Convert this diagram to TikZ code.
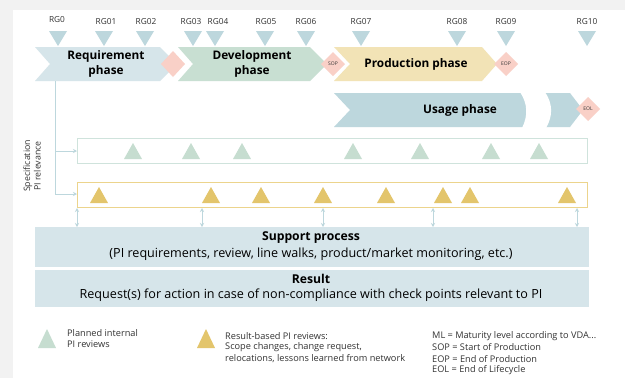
\documentclass[tikz,border=0pt]{standalone}
\usepackage{fontspec}
\setmainfont{Open Sans}
\usetikzlibrary{arrows.meta}
\definecolor{bgray}{HTML}{F2F2F2}
\definecolor{lblue}{HTML}{D6E5EA}
\definecolor{mblue}{HTML}{BDD7DD}
\definecolor{lgreen}{HTML}{C8DFD2}
\definecolor{lyellow}{HTML}{F2E3B6}
\definecolor{gold}{HTML}{E3C56C}
\definecolor{tgreen}{HTML}{C6DDD0}
\definecolor{pink}{HTML}{F9D0C7}
\definecolor{txt}{HTML}{333333}
\definecolor{box1c}{HTML}{CFE3DC}
\definecolor{box2c}{HTML}{ECD48C}
\tikzset{
  rglabel/.style={font=\fontsize{8.3}{10}\selectfont, text=txt, inner sep=0pt},
  phasetext/.style={font=\fontsize{11.8}{15}\selectfont\bfseries, align=center, inner sep=0pt},
  dia/.style={fill=pink, draw=none},
  diatext/.style={font=\fontsize{5}{6}\selectfont, text=txt, inner sep=0pt},
  conn/.style={draw=mblue, line width=0.9pt},
  connarrow/.style={conn, -{Stealth[length=4pt,width=4pt]}},
  dblarrow/.style={conn, {Stealth[length=4pt,width=4pt]}-{Stealth[length=4pt,width=4pt]}},
  legtext/.style={font=\fontsize{9.2}{11.6}\selectfont, text=txt, align=left, anchor=west, inner sep=0pt},
  bigbox/.style={fill=lblue, draw=none, minimum width=554pt, inner sep=0pt, align=center},
  boxtitle/.style={font=\fontsize{12.2}{12}\selectfont\bfseries, inner sep=0pt},
  boxtext/.style={font=\fontsize{12.6}{12}\selectfont, inner sep=0pt},
}
\begin{document}
\begin{tikzpicture}[x=1pt,y=-1pt]
\useasboundingbox (0,0) rectangle (625,378);
\fill[bgray] (0,0) rectangle (625,378);
\fill[white] (13,10) rectangle (625,378);

% RG labels and down triangles
\foreach \lab/\lx/\ly/\tx in {RG0/57/20/58, RG01/106/22/104, RG02/146/22/145, RG03/191/22/193, RG04/218/22/215, RG05/266/22/265, RG06/306/22/306, RG07/361/22/361, RG08/457/22/457, RG09/506/22/506, RG10/587/22/587}{
  \node[rglabel] (l\lab) at (\lx,\ly) {\lab};
  \fill[mblue] (\tx-9,31) -- (\tx+9,31) -- (\tx,46) -- cycle;
}

% phases
\fill[lblue] (35,47) -- (160,47) -- (177,64) -- (160,81) -- (35,81) -- (50,64) -- cycle;
\node[phasetext] (req) at (106,64) {Requirement\\phase};
\fill[dia] (173,51) -- (185,64) -- (173,77) -- (161,64) -- cycle;
\node (d1) at (173,64) {};

\fill[lgreen] (178,47) -- (310,47) -- (327,64) -- (310,81) -- (178,81) -- (193,64) -- cycle;
\node[phasetext] (dev) at (252,64) {Development\\phase};
\fill[dia] (333,52) -- (345,64) -- (333,76) -- (321,64) -- cycle;
\node[diatext] (sop) at (333,64) {SOP};

\fill[lyellow] (334,47) -- (482,47) -- (497,64) -- (482,81) -- (334,81) -- (350,64) -- cycle;
\node[phasetext] (prod) at (416,64) {Production phase};
\fill[dia] (506,52) -- (518,64) -- (506,76) -- (494,64) -- cycle;
\node[diatext] (eop) at (506,64) {EOP};

\fill[mblue] (334,93) -- (570,93) -- (583,110) -- (570,127) -- (334,127) -- (350,110) -- cycle;
\fill[white] (520,92) .. controls (528,104) and (528,116) .. (522,128) -- (546,128) .. controls (553,116) and (553,104) .. (545,92) -- cycle;
\node[phasetext] (usage) at (460,110) {Usage phase};
\fill[dia] (588,97) -- (600,109) -- (588,121) -- (576,109) -- cycle;
\node[diatext] (eol) at (588,109) {EOL};

% side label
\node[rotate=90, font=\fontsize{8.8}{10.5}\selectfont, text=txt, align=center, inner sep=0pt] (spec) at (32,166) {Specification\\PI relevance};

% boxes
\node[draw=box1c, line width=1pt, minimum width=510pt, minimum height=25pt, inner sep=0pt, anchor=north west] (box1) at (77,138) {};
\node[draw=box2c, line width=1pt, minimum width=510pt, minimum height=25pt, inner sep=0pt, anchor=north west] (box2) at (77,182) {};

% connectors from requirement phase
\coordinate (vtop) at (55,81);
\coordinate (vb1) at (55,151);
\coordinate (vb2) at (55,194);
\draw[conn] (vtop) -- (vb2);
\draw[connarrow] (vb1) -- (vb1 -| box1.west);
\draw[connarrow] (vb2) -- (vb2 -| box2.west);

% triangles in boxes
\foreach \x in {133,191,242,353,420,491,539}{
  \fill[tgreen] (\x-9,159) -- (\x+9,159) -- (\x,143) -- cycle;
}
\foreach \x in {99,211,261,323,386,443,470,567}{
  \fill[gold] (\x-9,203) -- (\x+9,203) -- (\x,187) -- cycle;
}

% support and result
\node[bigbox, minimum height=40pt, anchor=north west] (support) at (35,227) {};
\node[boxtitle] (suptitle) at (311,238) {Support process};
\node[boxtext] (suptext) at (311,254) {(PI requirements, review, line walks, product/market monitoring, etc.)};
\node[bigbox, minimum height=37pt, anchor=north west] (result) at (35,270) {};
\node[boxtitle] (restitle) at (311,279) {Result};
\node[boxtext] (restext) at (311,295) {Request(s) for action in case of non-compliance with check points relevant to PI};

\foreach \x in {77,202,323,433,577}{
  \draw[dblarrow] (box2.south -| \x,0) -- (support.north -| \x,0);
}

% legend
\fill[tgreen] (38,348) -- (56,348) -- (47,329) -- cycle;
\node[legtext] (leg1a) at (67,333) {Planned internal};
\node[legtext] (leg1b) at (67,344.5) {PI reviews};
\fill[gold] (197,348) -- (215,348) -- (206,329) -- cycle;
\node[legtext] (leg2a) at (225,336) {Result-based PI reviews:};
\node[legtext] (leg2b) at (225,347.5) {Scope changes, change request,};
\node[legtext] (leg2c) at (225,359) {relocations, lessons learned from network};
\node[legtext] (leg3a) at (432,336) {ML = Maturity level according to VDA...};
\node[legtext] (leg3b) at (432,347.5) {SOP = Start of Production};
\node[legtext] (leg3c) at (432,359) {EOP = End of Production};
\node[legtext] (leg3d) at (432,370.5) {EOL = End of Lifecycle};
\end{tikzpicture}
\end{document}
